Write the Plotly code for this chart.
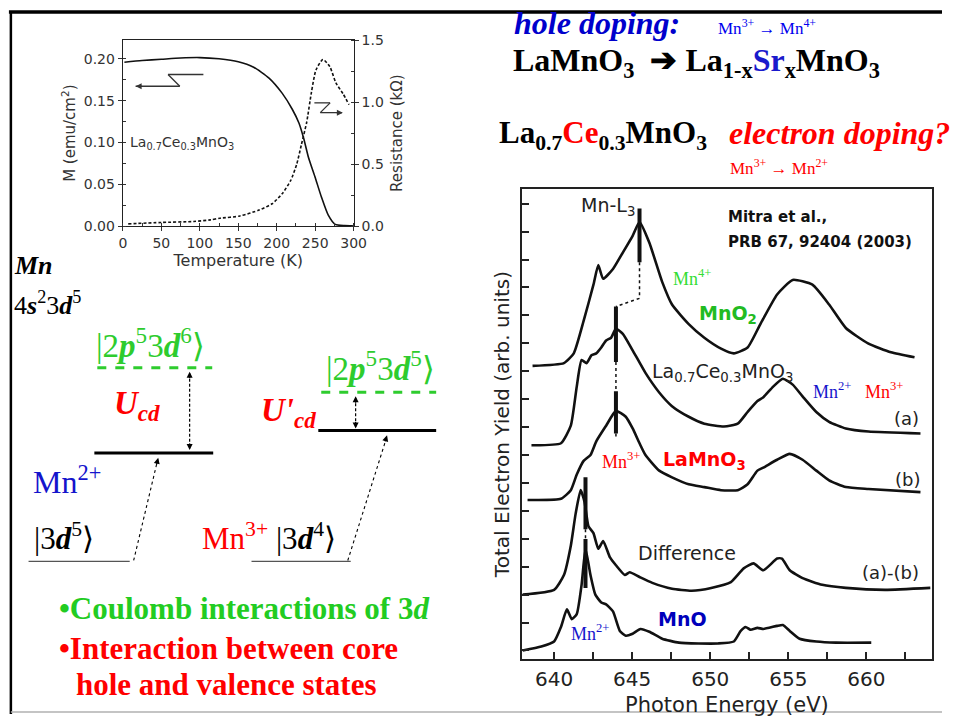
import plotly.graph_objects as go

SERIF = "Liberation Serif"
SANS = "DejaVu Sans"
W, H = 955, 722
GREEN = "#2ecc2e"
RED = "#ff0000"
BLUE = "#1414cc"

# ---------------- data: M(T) and R(T) -----------------
T_M = [2, 25, 50, 75, 100, 125, 150, 170, 190, 207, 220, 229, 235, 241, 250, 258, 267, 276, 288, 299]
M_vals = [0.196, 0.198, 0.1995, 0.201, 0.2015, 0.200, 0.1965, 0.190, 0.177, 0.159, 0.140, 0.123,
          0.105, 0.083, 0.058, 0.035, 0.013, 0.002, 0.0005, 0.0004]
T_R = [7, 50, 92, 114, 126, 152, 177, 194, 207, 218, 226, 232, 239, 245, 251, 260, 269, 277, 286, 294]
R_vals = [0.018, 0.029, 0.037, 0.05, 0.063, 0.081, 0.129, 0.18, 0.26, 0.366, 0.50, 0.655, 0.84,
          1.076, 1.26, 1.345, 1.287, 1.155, 1.07, 0.98]
T_ticks = [0, 50, 100, 150, 200, 250, 300]

# ---------------- data: XAS spectra (stacked, arb. units) -----------------
E_mno2 = [638.62, 640.63, 641.26, 641.89, 642.52, 642.83, 643.14, 643.77, 644.40, 645.03, 645.47,
          646.10, 646.92, 647.55, 648.62, 649.62, 650.69, 651.51, 652.39, 653.21, 654.28, 655.28,
          656.54, 657.61, 658.68, 660.13, 661.57, 663.08]
Y_mno2 = [10.19, 10.29, 10.64, 11.80, 13.10, 13.80, 13.31, 13.66, 14.25, 14.85, 15.34, 14.60,
          13.20, 12.39, 11.69, 11.20, 10.81, 10.64, 10.85, 11.69, 12.75, 13.27, 13.10, 12.39,
          11.55, 10.99, 10.68, 10.50]
E_lcmo = [638.55, 640.44, 641.07, 641.45, 641.76, 642.08, 642.39, 642.70, 643.02, 643.33, 643.65,
          643.96, 644.40, 645.03, 645.85, 646.73, 647.55, 648.62, 649.62, 650.88, 651.76, 652.39,
          653.02, 653.40, 654.03, 654.65, 655.28, 655.91, 656.79, 657.61, 658.68, 660.13, 663.46]
Y_lcmo = [7.35, 7.42, 8.05, 9.45, 10.40, 10.29, 10.57, 10.64, 10.85, 11.10, 11.20, 11.52, 11.34,
          10.75, 9.94, 9.24, 8.75, 8.37, 8.12, 8.02, 8.12, 8.54, 8.93, 9.07, 9.45, 9.73, 9.52,
          9.10, 8.54, 8.19, 7.95, 7.84, 7.77]
E_lmo = [638.30, 640.44, 641.07, 641.45, 641.89, 642.33, 642.70, 643.33, 643.96, 644.59, 645.03,
         645.47, 645.85, 646.73, 647.55, 648.62, 649.62, 650.69, 651.76, 652.39, 653.02, 653.40,
         654.28, 655.09, 655.91, 656.79, 657.61, 658.68, 660.13, 663.46]
Y_lmo = [5.39, 5.43, 5.74, 6.30, 6.79, 7.00, 7.49, 8.05, 8.58, 8.37, 7.95, 7.42, 7.00, 6.44, 6.20,
         5.95, 5.85, 5.74, 5.74, 5.95, 6.44, 6.55, 6.83, 7.04, 6.83, 6.44, 6.09, 5.85, 5.78, 5.67]
E_diff = [637.99, 640.00, 640.63, 641.07, 641.38, 641.70, 641.95, 642.20, 642.52, 642.83, 643.14,
          643.58, 643.96, 644.53, 644.84, 645.47, 646.29, 647.55, 648.81, 650.06, 651.32, 652.14,
          652.77, 653.40, 654.28, 654.59, 655.09, 655.91, 657.17, 658.68, 661.19, 664.09]
Y_diff = [2.00, 2.17, 2.70, 3.75, 4.90, 5.74, 5.32, 4.45, 4.20, 3.64, 3.92, 3.33, 3.05, 2.70, 2.80,
          2.63, 2.42, 2.21, 2.14, 2.24, 2.45, 2.94, 3.12, 2.87, 3.29, 3.29, 2.87, 2.59, 2.35, 2.24,
          2.17, 2.24]
E_mno = [637.99, 639.18, 640.00, 640.44, 640.82, 641.13, 641.45, 641.76, 642.01, 642.33, 642.64,
         643.02, 643.33, 643.77, 644.21, 644.59, 645.03, 645.53, 646.10, 646.92, 647.99, 649.25,
         650.50, 651.51, 651.95, 652.26, 652.58, 653.02, 653.40, 654.28, 654.65, 655.09, 655.72,
         656.79, 658.05, 660.31]
Y_mno = [0.00, 0.14, 0.32, 0.84, 1.47, 1.12, 1.30, 2.35, 3.64, 2.70, 2.00, 1.72, 1.65, 1.40, 0.70,
         0.53, 0.60, 0.77, 0.67, 0.42, 0.28, 0.25, 0.25, 0.32, 0.70, 0.84, 0.74, 0.81, 0.77, 0.88,
         0.91, 0.70, 0.42, 0.32, 0.28, 0.28]
E_ticks = [640, 645, 650, 655, 660]

# peak-position markers: (E0, E1, Y0, Y1, style)
peak_marks = [
    (645.47, 645.47, 15.83, 13.90, "solid"),
    (645.47, 645.47, 13.90, 12.61, "dot"),
    (645.47, 643.96, 12.61, 12.32, "dot"),
    (643.96, 643.96, 12.32, 10.33, "solid"),
    (643.96, 643.96, 10.33, 9.28, "dot"),
    (643.96, 643.96, 9.28, 7.77, "solid"),
    (643.96, 643.96, 7.77, 7.60, "dot"),
    (642.01, 642.01, 6.20, 4.34, "solid"),
    (642.01, 642.01, 4.34, 3.99, "dot"),
    (642.01, 642.01, 3.99, 2.24, "solid"),
]


def X(p):
    return p / W


def Y(p):
    return 1 - p / H


fig = go.Figure()

# left panel traces
fig.add_trace(go.Scatter(x=T_M, y=M_vals, mode="lines", line=dict(color="#111", width=1.6, shape="spline", smoothing=0.6),
                         xaxis="x", yaxis="y", showlegend=False))
fig.add_trace(go.Scatter(x=T_R, y=R_vals, mode="lines", line=dict(color="#111", width=1.6, dash="3px,2px", shape="spline", smoothing=0.6),
                         xaxis="x", yaxis="y2", showlegend=False))

# right panel traces
for e, yv in [(E_mno2, Y_mno2), (E_lcmo, Y_lcmo), (E_lmo, Y_lmo), (E_diff, Y_diff), (E_mno, Y_mno)]:
    fig.add_trace(go.Scatter(x=e, y=yv, mode="lines", line=dict(color="#111", width=2.6, shape="spline", smoothing=0.5),
                             xaxis="x2", yaxis="y3", showlegend=False))
for e0, e1, y0, y1, st in peak_marks:
    fig.add_trace(go.Scatter(x=[e0, e1], y=[y0, y1], mode="lines",
                             line=dict(color="#111", width=4 if st == "solid" else 1.5, dash=st),
                             xaxis="x2", yaxis="y3", showlegend=False))

tickfont_l = dict(family=SANS, size=14, color="#333")
tickfont_r = dict(family=SANS, size=20, color="#222")

fig.update_layout(
    width=W, height=H, autosize=False,
    margin=dict(l=0, r=0, t=0, b=0),
    paper_bgcolor="white", plot_bgcolor="white",
    xaxis=dict(domain=[X(121), X(356)], anchor="y", range=[0, 300], tickvals=T_ticks,
               ticks="outside", ticklen=4, tickcolor="#333",
               minor=dict(dtick=25, ticks="inside", ticklen=3, tickcolor="#333"),
               showline=True, linecolor="#222", linewidth=1.2, mirror=True, showgrid=False, zeroline=False,
               tickfont=tickfont_l, title=dict(text="Temperature (K)", font=dict(family=SANS, size=16, color="#333"), standoff=1)),
    yaxis=dict(domain=[Y(223), Y(33)], anchor="x", range=[0, 0.2222], dtick=0.05, tickformat=".2f",
               ticks="outside", ticklen=4, tickcolor="#333",
               minor=dict(dtick=0.025, ticks="inside", ticklen=3, tickcolor="#333"),
               showline=True, linecolor="#222", linewidth=1.2, showgrid=False, zeroline=False,
               tickfont=tickfont_l, title=dict(text="M (emu/cm<sup>2</sup>)", font=dict(family=SANS, size=15, color="#333"), standoff=4)),
    yaxis2=dict(overlaying="y", side="right", anchor="x", range=[0, 1.5], dtick=0.5, tickformat=".1f",
                ticks="outside", ticklen=4, tickcolor="#333",
                minor=dict(dtick=0.25, ticks="inside", ticklen=3, tickcolor="#333"),
                showline=True, linecolor="#222", linewidth=1.2, showgrid=False, zeroline=False,
                tickfont=tickfont_l, title=dict(text="Resistance (kΩ)", font=dict(family=SANS, size=15, color="#333"), standoff=8)),
    xaxis2=dict(domain=[X(527), X(945)], anchor="y3", range=[637.92, 664.21], tickvals=E_ticks,
                ticks="inside", ticklen=7, tickwidth=1.5, tickcolor="#222", ticklabelstandoff=1,
                minor=dict(dtick=2.5, tick0=640, ticks="inside", ticklen=7, tickwidth=1.5, tickcolor="#222"),
                showline=True, linecolor="#222", linewidth=2, mirror=True, showgrid=False, zeroline=False,
                tickfont=tickfont_r, title=dict(text="Photon Energy (eV)", font=dict(family=SANS, size=21, color="#222"), standoff=7)),
    yaxis3=dict(domain=[Y(666), Y(185)], anchor="x2", range=[-0.315, 16.53], dtick=1, tick0=0,
                ticks="inside", ticklen=7, tickwidth=1.5, tickcolor="#222", showticklabels=False,
                showline=True, linecolor="#222", linewidth=2, mirror=True, showgrid=False, zeroline=False,
                title=dict(text="Total Electron Yield (arb. units)", font=dict(family=SANS, size=20, color="#222"), standoff=5)),
)

shapes = []


def pline(x0, y0, x1, y1, color="black", width=2, dash="solid"):
    shapes.append(dict(type="line", xref="paper", yref="paper", x0=X(x0), y0=Y(y0), x1=X(x1), y1=Y(y1),
                       line=dict(color=color, width=width, dash=dash)))


# slide frame
pline(5, 4, 955, 4, width=3.5)
pline(7, 4, 7, 722, width=2.5)
pline(7, 720, 955, 720, color="#b0b0b0", width=1.5)

# zigzag arrows in M(T) panel
pline(167, 68, 203, 68, color="#333", width=1.3)
pline(167, 68, 179, 80, color="#333", width=1.3)
pline(179, 80, 134, 80, color="#333", width=1.3)
pline(316, 97, 332, 97, color="#333", width=1.3)
pline(332, 97, 322, 107, color="#333", width=1.3)
pline(322, 107, 344, 107, color="#333", width=1.3)

# energy level diagram
pline(95, 368, 212, 368, color=GREEN, width=3, dash="dash")
pline(92, 455, 213, 455, width=3)
pline(189, 374, 189, 450, width=1.2, dash="3px,2px")
pline(25, 566, 128, 566, color="#555", width=1.3)
pline(132, 565, 156, 464, width=1.1, dash="3px,3px")
pline(323, 393, 440, 393, color=GREEN, width=3, dash="dash")
pline(320, 432, 440, 432, width=3)
pline(358, 399, 358, 427, width=1.2, dash="3px,2px")
pline(252, 566, 353, 566, color="#555", width=1.3)
pline(350, 565, 389, 441, width=1.1, dash="3px,3px")

fig.update_layout(shapes=shapes)

ann = []


def txt(x, y, s, size, color="black", family=SERIF, xanchor="left", angle=0):
    ann.append(dict(xref="paper", yref="paper", x=X(x), y=Y(y), text=s, showarrow=False,
                    xanchor=xanchor, yanchor="middle", textangle=angle, borderpad=0,
                    font=dict(family=family, size=size, color=color)))


def head(x, y, dx, dy, color="black", size=1.0):
    ann.append(dict(xref="paper", yref="paper", x=X(x), y=Y(y), ax=dx, ay=dy, text="", showarrow=True,
                    arrowhead=2, arrowsize=size, arrowwidth=1.2, arrowcolor=color))


# arrowheads
head(134, 80, 8, 0, color="#333", size=1.0)
head(345, 107, -8, 0, color="#333", size=1.0)
head(189, 372, 0, 8)
head(189, 452, 0, -8)
head(358, 397, 0, 8)
head(358, 430, 0, -8)
head(157, 460, -2, 8)
head(390, 437, -2.4, 7.6)

# top-right headline
txt(518, 15, "<b><i>hole doping:</i></b>", 32, color="#0000cc")
txt(726, 19, "Mn<sup>3+</sup> → Mn<sup>4+</sup>", 17, color="#0000ee")
txt(517, 56, "<b>LaMnO<sub>3</sub>  ➔ La<sub>1-x</sub><span style='color:#1a1acc'>Sr</span><sub>x</sub>MnO<sub>3</sub></b>", 32)
txt(503, 130, "<b>La<sub>0.7</sub><span style='color:red'>Ce</span><sub>0.3</sub>MnO<sub>3</sub></b>", 31)
txt(737, 128, "<b><i>electron doping?</i></b>", 32, color=RED)
txt(738, 163, "Mn<sup>3+</sup> → Mn<sup>2+</sup>", 17, color=RED)

# left-side diagram text
txt(9, 263, "<b><i>Mn</i></b>", 26)
txt(9, 302, "4<b><i>s</i></b><sup>2</sup>3<b><i>d</i></b><sup>5</sup>", 26)
txt(93, 343, "|2<b><i>p</i></b><sup>5</sup>3<b><i>d</i></b><sup>6</sup>⟩", 33, color=GREEN)
txt(327, 366, "|2<b><i>p</i></b><sup>5</sup>3<b><i>d</i></b><sup>5</sup>⟩", 33, color=GREEN)
txt(111, 407, "<b><i>U<sub>cd</sub></i></b>", 33, color=RED)
txt(261, 414, "<b><i>U'<sub>cd</sub></i></b>", 33, color=RED)
txt(28, 483, "Mn<sup>2+</sup>", 32, color=BLUE)
txt(30, 540, "|3<b><i>d</i></b><sup>5</sup>⟩", 31)
txt(201, 540, "<span style='color:red'>Mn<sup>3+</sup></span> |3<b><i>d</i></b><sup>4</sup>⟩", 31)
txt(55, 614, "<b>•Coulomb interactions of 3<i>d</i></b>", 31, color="#22cc22")
txt(55, 655, "<b>•Interaction between core</b>", 31, color=RED)
txt(72, 692, "<b>hole and valence states</b>", 31, color=RED)

# M(T) panel label
txt(181, 138, "La<sub>0.7</sub>Ce<sub>0.3</sub>MnO<sub>3</sub>", 14, color="#333", family=SANS, xanchor="center")

# XAS panel labels
txt(615, 203, "Mn-L<sub>3</sub>", 19, color="#222", family=SANS, xanchor="center")
txt(736, 214, "<b>Mitra et al.,</b>", 15, color="#111", family=SANS)
txt(736, 239, "<b>PRB 67, 92404 (2003)</b>", 15, color="#111", family=SANS)
txt(700, 276, "Mn<sup>4+</sup>", 18, color="#33dd33", xanchor="center")
txt(737, 313, "<b>MnO<sub>2</sub></b>", 19, color="#22bb22", family=SANS, xanchor="center")
txt(732, 373, "La<sub>0.7</sub>Ce<sub>0.3</sub>MnO<sub>3</sub>", 19, color="#222", family=SANS, xanchor="center")
txt(843, 391, "Mn<sup>2+</sup>", 18, color=BLUE, xanchor="center")
txt(896, 391, "Mn<sup>3+</sup>", 18, color=RED, xanchor="center")
txt(919, 420, "(a)", 18, color="#222", family=SANS, xanchor="center")
txt(628, 463, "Mn<sup>3+</sup>", 18, color=RED, xanchor="center")
txt(713, 463, "<b>LaMnO<sub>3</sub></b>", 19, color=RED, family=SANS, xanchor="center")
txt(920, 482, "(b)", 18, color="#222", family=SANS, xanchor="center")
txt(695, 557, "Difference", 19, color="#222", family=SANS, xanchor="center")
txt(903, 577, "(a)-(b)", 18, color="#222", family=SANS, xanchor="center")
txt(691, 625, "<b>MnO</b>", 19, color="#0000bb", family=SANS, xanchor="center")
txt(597, 639, "Mn<sup>2+</sup>", 18, color=BLUE, xanchor="center")

fig.update_layout(annotations=ann)

fig.write_html("out.html")
